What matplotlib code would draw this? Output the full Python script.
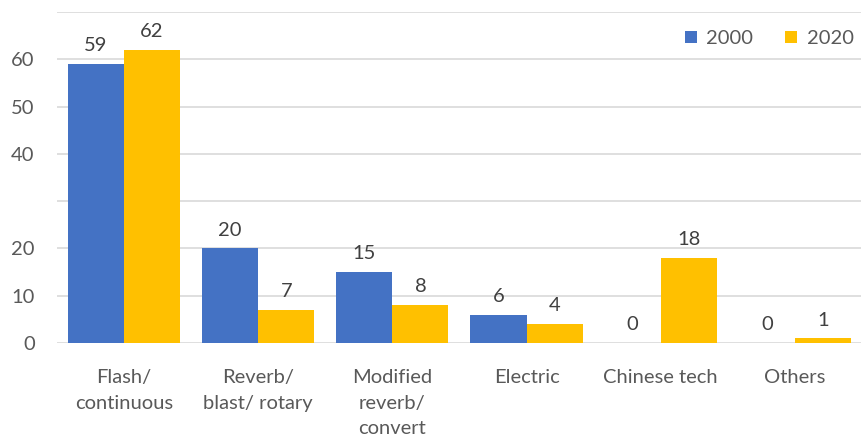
import numpy as np
import matplotlib.pyplot as plt

categories = ["Flash/\ncontinuous", "Reverb/\nblast/ rotary", "Modified\nreverb/\nconvert",
              "Electric", "Chinese tech", "Others"]
values_2000 = [59, 20, 15, 6, 0, 0]
values_2020 = [62, 7, 8, 4, 18, 1]
yticks = [0, 10, 20, 40, 50, 60]

plt.rcParams['font.family'] = ['Lato', 'DejaVu Sans']

fig = plt.figure(figsize=(8.62, 4.43), dpi=100)
ax = fig.add_axes([0.066, 0.2257, 0.934, 0.7473])

x = np.arange(len(categories))
w = 0.418
b1 = ax.bar(x - w / 2, values_2000, w, color="#4472C4", label="2000")
b2 = ax.bar(x + w / 2, values_2020, w, color="#FFC000", label="2020")

for bars, vals in [(b1, values_2000), (b2, values_2020)]:
    for r, v in zip(bars, vals):
        ax.annotate(str(v), (r.get_x() + r.get_width() / 2, v), xytext=(0, 7),
                    textcoords="offset points", ha="center", va="bottom",
                    fontsize=14.5, color="#404040")

ax.set_xlim(-0.5, len(categories) - 0.5)
ax.set_ylim(0, 70)
ax.set_yticks(np.arange(0, 71, 10))
ax.set_yticklabels([str(t) if t in yticks else "" for t in range(0, 71, 10)])
ax.yaxis.grid(True, color="#D9D9D9", linewidth=1.2)
ax.set_axisbelow(True)
for s in ax.spines.values():
    s.set_visible(False)
ax.tick_params(axis="both", length=0, labelsize=14.5, colors="#595959")
ax.tick_params(axis="y", pad=16)
ax.tick_params(axis="x", pad=19)
ax.set_xticks(x)
ax.set_xticklabels(categories, va="top", linespacing=1.6)

ax.legend(loc="upper right", ncol=2, frameon=False, fontsize=14.5, handlelength=0.6,
          handleheight=0.6, columnspacing=1.6, handletextpad=0.45,
          bbox_to_anchor=(1.012, 1.0), labelcolor="#595959")

fig.savefig("out.png", dpi=100)
